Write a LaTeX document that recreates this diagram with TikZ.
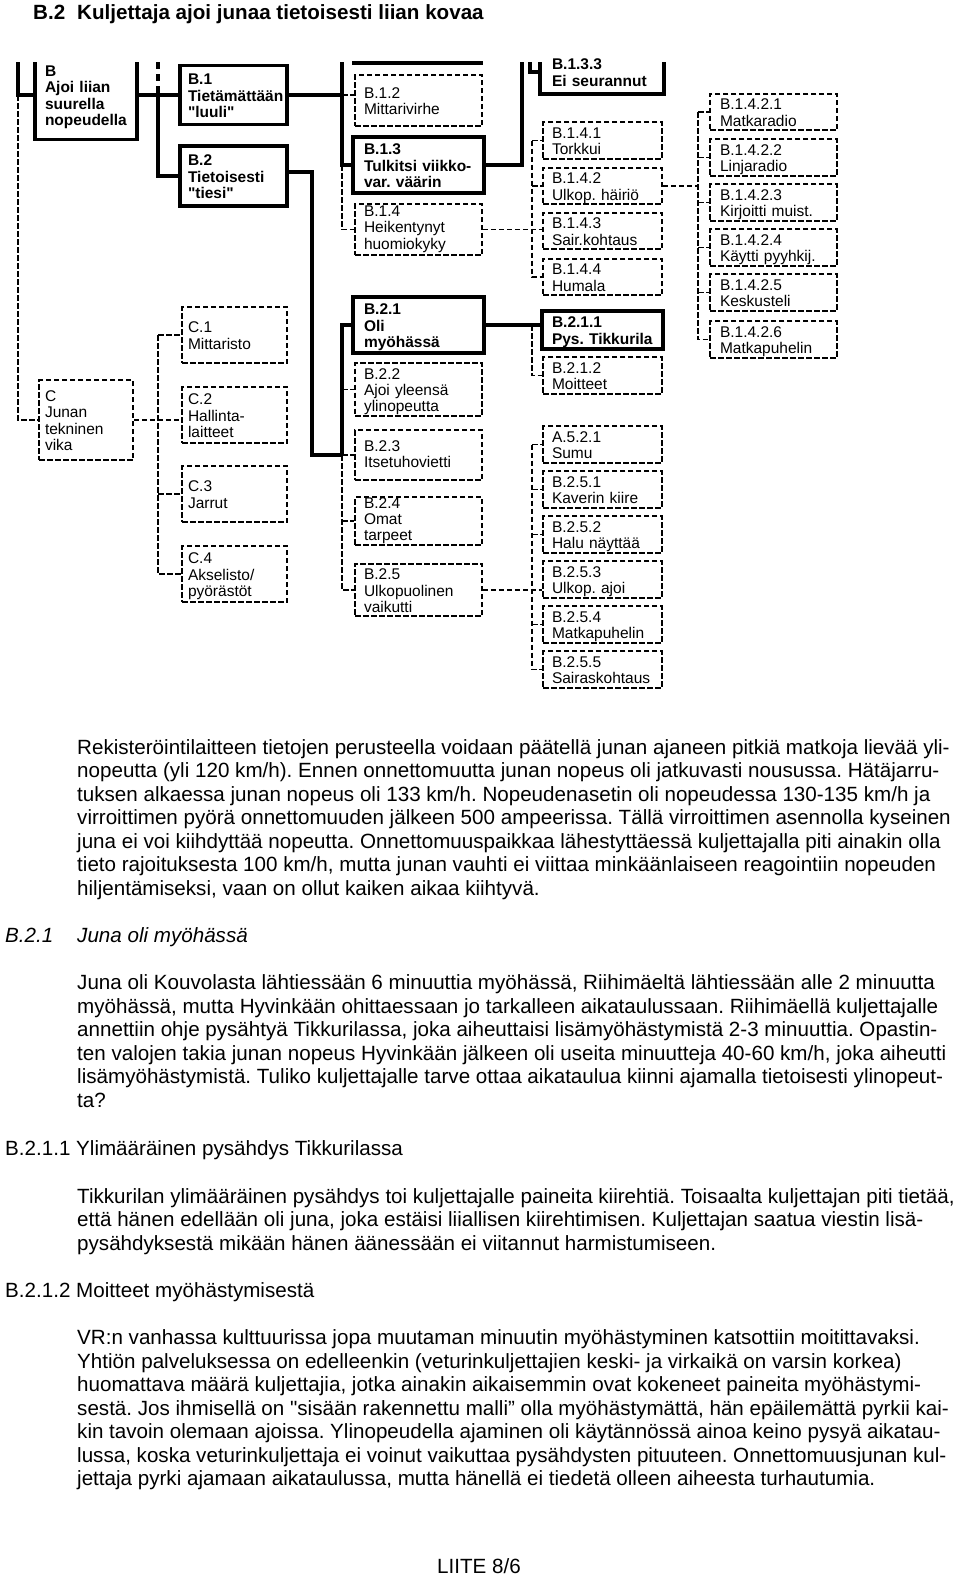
\documentclass[tikz,border=0pt]{standalone}
\usepackage{fontspec}
\setmainfont{Liberation Sans}
\frenchspacing
\font\qfbold="Liberation Sans/B" at 15.5pt
\font\qfbody="Liberation Sans" at 20.6pt
\newcommand\dqbold{{\qfbold\char34}}
\newcommand\dqbody{{\qfbody\char34}}
\newcommand\bst{\rule{0pt}{16pt}}
\newcommand\bsthi{\rule{0pt}{10.5pt}}
\newcommand\est{\rule[-4pt]{0pt}{4pt}}
\newcommand\bxr{\fontsize{15.5}{16.3}\selectfont\hyphenpenalty=10000\exhyphenpenalty=10000}
\newcommand\bxb{\fontsize{15.5}{16.3}\selectfont\bfseries\hyphenpenalty=10000\exhyphenpenalty=10000}
\newcommand\bodyf{\fontsize{20.6}{23.5}\selectfont}
\newcommand\headf{\fontsize{20.6}{24}\selectfont\bfseries}
\tikzset{
  thk/.style={line width=3.8pt},
  dsh/.style={line width=1.8pt, dash pattern=on 5.5pt off 2.5pt},
  bxth/.style={draw, thk, font=\bxb, align=left, inner ysep=0pt, inner xsep=#1},
  bxds/.style={draw, dsh, font=\bxr, align=left, inner ysep=0pt, inner xsep=#1},
  txt/.style={anchor=base west, inner sep=0pt, font=\bodyf},
}
\begin{document}
\begin{tikzpicture}[x=1pt,y=-1pt]
\useasboundingbox (0,0) rectangle (960,1577);

% ---------- title
\node[anchor=base west, inner sep=0pt, font=\headf] (title) at (33,19) {B.2\hspace{12pt}Kuljettaja ajoi junaa tietoisesti liian kovaa};

% ---------- helper coordinates
\coordinate (topcut) at (0,62);
\coordinate (lstub) at (18,62);
\coordinate (j1top) at (158,62);
\coordinate (j2top) at (342,62);
\coordinate (j5top) at (522,62);
\coordinate (j6top) at (530,62);
\coordinate (tl1) at (352,63);
\coordinate (tl2) at (483,63);
\coordinate (jB2) at (312,0);
\coordinate (jc2) at (342,0);
\coordinate (c1) at (158,0);
\coordinate (c3) at (532,0);
\coordinate (c4) at (698,0);

% ---------- column 1
\node[bxth=8, draw=none, minimum width=98pt, minimum height=85pt, text width=82pt] (nB) at (86,95) {\bst B\\Ajoi liian\\suurella\\nopeudella\est};
\node[bxth=8, minimum width=107pt, minimum height=59pt, text width=91pt] (nB1) at (233.5,95) {\bst B.1\\Tietämättään\\\dqbold luuli\dqbold\est};
\node[bxth=8, minimum width=107pt, minimum height=60pt, text width=91pt] (nB2) at (233.5,176) {\bst B.2\\Tietoisesti\\\dqbold tiesi\dqbold\est};
\node[bxds=6, minimum width=94pt, minimum height=80pt, text width=82pt] (nC) at (86,420) {\bst C\\Junan\\tekninen\\vika\est};
\node[bxds=6, minimum width=105pt, minimum height=56pt, text width=93pt] (nC1) at (234.5,335) {\bst C.1\\Mittaristo\est};
\node[bxds=6, minimum width=105pt, minimum height=56pt, text width=93pt] (nC2) at (234.5,415) {\bst C.2\\Hallinta-\\laitteet\est};
\node[bxds=6, minimum width=105pt, minimum height=56pt, text width=93pt] (nC3) at (234.5,494) {\bst C.3\\Jarrut\est};
\node[bxds=6, minimum width=105pt, minimum height=56pt, text width=93pt] (nC4) at (234.5,574) {\bst C.4\\Akselisto/\\pyörästöt\est};

% ---------- column 2
\node[bxds=9, minimum width=127pt, minimum height=51pt, text width=109pt] (nB12) at (418.5,100.5) {\bst B.1.2\\Mittarivirhe\est};
\node[bxth=11, minimum width=131pt, minimum height=56pt, text width=109pt] (nB13) at (418.5,165) {\bst B.1.3\\Tulkitsi viikko-\\var.~väärin\est};
\node[bxds=9, minimum width=127pt, minimum height=51pt, text width=109pt] (nB14) at (418.5,229.5) {\bsthi B.1.4\\Heikentynyt\\huomiokyky\est};
\node[bxth=11, minimum width=131pt, minimum height=56pt, text width=109pt] (nB21) at (418.5,325) {\bst B.2.1\\Oli\\myöhässä\est};
\node[bxds=9, minimum width=127pt, minimum height=51pt, text width=109pt] (nB22) at (418.5,389.5) {\bst B.2.2\\Ajoi yleensä\\ylinopeutta\est};
\node[bxds=9, minimum width=127pt, minimum height=50pt, text width=109pt] (nB23) at (418.5,455) {\rule{0pt}{13pt}B.2.3\\Itsetuhovietti\est};
\node[bxds=9, minimum width=127pt, minimum height=48pt, text width=109pt] (nB24) at (418.5,521) {\bsthi B.2.4\\Omat\\tarpeet\est};
\node[bxds=9, minimum width=127pt, minimum height=50pt, text width=109pt] (nB25) at (418.5,590) {\bst B.2.5\\Ulkopuolinen\\vaikutti\est};

% ---------- column 3
\node[bxth=10, draw=none, minimum width=120pt, minimum height=40.5pt, text width=100pt] (nB133) at (602,72) {\bst B.1.3.3\\Ei~seurannut\est};
\node[bxds=9, minimum width=119pt, minimum height=35pt, text width=101pt] (nB141) at (602.5,140.5) {\bst B.1.4.1\\Torkkui\est};
\node[bxds=9, minimum width=119pt, minimum height=36pt, text width=101pt] (nB142) at (602.5,186) {\bst B.1.4.2\\Ulkop.~häiriö\est};
\node[bxds=9, minimum width=119pt, minimum height=36pt, text width=101pt] (nB143) at (602.5,231) {\bst B.1.4.3\\Sair.kohtaus\est};
\node[bxds=9, minimum width=119pt, minimum height=36pt, text width=101pt] (nB144) at (602.5,277) {\bst B.1.4.4\\Humala\est};
\node[bxth=10, minimum width=121pt, minimum height=38pt, text width=101pt] (nB211) at (602.5,330) {\bst B.2.1.1\\Pys.~Tikkurila\est};
\node[bxds=9, minimum width=119pt, minimum height=35pt, text width=101pt] (nB212) at (602.5,375.5) {\bst B.2.1.2\\Moitteet\est};
\node[bxds=9, minimum width=119pt, minimum height=35pt, text width=101pt] (nA521) at (602.5,444.5) {\bst A.5.2.1\\Sumu\est};
\node[bxds=9, minimum width=119pt, minimum height=35pt, text width=101pt] (nB251) at (602.5,489.5) {\bst B.2.5.1\\Kaverin~kiire\est};
\node[bxds=9, minimum width=119pt, minimum height=35pt, text width=101pt] (nB252) at (602.5,534.5) {\bst B.2.5.2\\Halu~näyttää\est};
\node[bxds=9, minimum width=119pt, minimum height=35pt, text width=101pt] (nB253) at (602.5,579.5) {\bst B.2.5.3\\Ulkop.~ajoi\est};
\node[bxds=9, minimum width=119pt, minimum height=35pt, text width=101pt] (nB254) at (602.5,624.5) {\bst B.2.5.4\\Matkapuhelin\est};
\node[bxds=9, minimum width=119pt, minimum height=35pt, text width=101pt] (nB255) at (602.5,669.5) {\bst B.2.5.5\\Sairaskohtaus\est};

% ---------- column 4
\node[bxds=10, minimum width=127pt, minimum height=34pt, text width=107pt] (nB1421) at (773.5,112) {\bst B.1.4.2.1\\Matkaradio\est};
\node[bxds=10, minimum width=127pt, minimum height=35pt, text width=107pt] (nB1422) at (773.5,157.5) {\bst B.1.4.2.2\\Linjaradio\est};
\node[bxds=10, minimum width=127pt, minimum height=35pt, text width=107pt] (nB1423) at (773.5,202.5) {\bst B.1.4.2.3\\Kirjoitti~muist.\est};
\node[bxds=10, minimum width=127pt, minimum height=35pt, text width=107pt] (nB1424) at (773.5,247.5) {\bst B.1.4.2.4\\Käytti~pyyhkij.\est};
\node[bxds=10, minimum width=127pt, minimum height=35pt, text width=107pt] (nB1425) at (773.5,292.5) {\bst B.1.4.2.5\\Keskusteli\est};
\node[bxds=10, minimum width=127pt, minimum height=35pt, text width=107pt] (nB1426) at (773.5,339.5) {\bst B.1.4.2.6\\Matkapuhelin\est};

% ---------- cut-off boxes and thick connectors
\draw[thk] (nB.west |- topcut) -- (nB.south west) -- (nB.south east) -- (nB.east |- topcut);
\draw[thk] (nB133.west |- topcut) -- (nB133.south west) -- (nB133.south east) -- (nB133.east |- topcut);
\draw[thk] (tl1) -- (tl2);
\draw[thk] (lstub) |- (nB.west);
\draw[thk] (nB.east) -- (nB1.west);
\draw[thk, dash pattern=on 7pt off 5pt] (j1top) -- (j1top |- nB1.west);
\draw[thk] (j1top |- nB1.west) |- (nB2.west);
\draw[thk] (nB1.east) -- (nB1.east -| j2top);
\draw[thk] (j2top) |- (nB13.west);
\draw[thk] (nB13.east) -| (j5top);
\draw[thk] (j6top) |- (nB133.west);
\draw[thk] ([yshift=4pt]nB2.east) -| (jB2 |- nB23.west) -- (jc2 |- nB23.west);
\draw[thk] (jc2 |- nB23.west) |- (nB21.west);
\draw[thk] (nB21.east) -- (nB211.west |- nB21.east);

% ---------- dashed connectors
\draw[dsh] (lstub |- nB.west) |- (nC.west);
\draw[dsh] (nC.east) -- (nC2.west |- nC.east);
\draw[dsh] (c1 |- nC1.west) -- (nC1.west);
\draw[dsh] (c1 |- nC1.west) |- (nC4.west);
\draw[dsh] (c1 |- nC3.west) -- (nC3.west);

\draw[dsh] (nB1.east -| j2top) -- (nB12.west |- nB1.east);
\draw[dsh] (j2top |- nB13.west) |- (nB14.west);

\draw[dsh] (jc2 |- nB22.west) -- (nB22.west);
\draw[dsh] (jc2 |- nB23.west) -- (nB23.west);
\draw[dsh] (jc2 |- nB24.west) -- (nB24.west);
\draw[dsh] (jc2 |- nB23.west) |- (nB25.west);

\draw[dsh] (nB14.east) -- (nB143.west |- nB14.east);
\draw[dsh] (c3 |- nB141.west) -- (nB141.west);
\draw[dsh] (c3 |- nB141.west) |- (nB144.west);
\draw[dsh] (c3 |- nB142.west) -- (nB142.west);

\draw[dsh] (c3 |- nB21.east) |- (nB212.west);

\draw[dsh] (nB25.east) -- (nB253.west |- nB25.east);
\draw[dsh] (c3 |- nA521.west) -- (nA521.west);
\draw[dsh] (c3 |- nA521.west) |- (nB255.west);
\draw[dsh] (c3 |- nB251.west) -- (nB251.west);
\draw[dsh] (c3 |- nB252.west) -- (nB252.west);
\draw[dsh] (c3 |- nB254.west) -- (nB254.west);

\draw[dsh] (nB142.east) -- (c4 |- nB142.east);
\draw[dsh] (c4 |- nB1421.west) -- (nB1421.west);
\draw[dsh] (c4 |- nB1421.west) |- (nB1426.west);
\draw[dsh] (c4 |- nB1422.west) -- (nB1422.west);
\draw[dsh] (c4 |- nB1423.west) -- (nB1423.west);
\draw[dsh] (c4 |- nB1424.west) -- (nB1424.west);
\draw[dsh] (c4 |- nB1425.west) -- (nB1425.west);

% ---------- body text
\node[txt] (p1a) at (77,754) {Rekisteröintilaitteen tietojen perusteella voidaan päätellä junan ajaneen pitkiä matkoja lievää yli-};
\node[txt] (p1b) at (77,777.5) {nopeutta (yli 120 km/h). Ennen onnettomuutta junan nopeus oli jatkuvasti nousussa. Hätäjarru-};
\node[txt] (p1c) at (77,801) {tuksen alkaessa junan nopeus oli 133 km/h. Nopeudenasetin oli nopeudessa 130-135 km/h ja};
\node[txt] (p1d) at (77,824.5) {virroittimen pyörä onnettomuuden jälkeen 500 ampeerissa. Tällä virroittimen asennolla kyseinen};
\node[txt] (p1e) at (77,848) {juna ei voi kiihdyttää nopeutta. Onnettomuuspaikkaa lähestyttäessä kuljettajalla piti ainakin olla};
\node[txt] (p1f) at (77,871.5) {tieto rajoituksesta 100 km/h, mutta junan vauhti ei viittaa minkäänlaiseen reagointiin nopeuden};
\node[txt] (p1g) at (77,895) {hiljentämiseksi, vaan on ollut kaiken aikaa kiihtyvä.};

\node[txt, font=\bodyf\itshape] (h21) at (5,942) {B.2.1};
\node[txt, font=\bodyf\itshape] (h21t) at (77,942) {Juna oli myöhässä};

\node[txt] (p2a) at (77,989.5) {Juna oli Kouvolasta lähtiessään 6 minuuttia myöhässä, Riihimäeltä lähtiessään alle 2 minuutta};
\node[txt] (p2b) at (77,1013) {myöhässä, mutta Hyvinkään ohittaessaan jo tarkalleen aikataulussaan. Riihimäellä kuljettajalle};
\node[txt] (p2c) at (77,1036.5) {annettiin ohje pysähtyä Tikkurilassa, joka aiheuttaisi lisämyöhästymistä 2-3 minuuttia. Opastin-};
\node[txt] (p2d) at (77,1060) {ten valojen takia junan nopeus Hyvinkään jälkeen oli useita minuutteja 40-60 km/h, joka aiheutti};
\node[txt] (p2e) at (77,1083.5) {lisämyöhästymistä. Tuliko kuljettajalle tarve ottaa aikataulua kiinni ajamalla tietoisesti ylinopeut-};
\node[txt] (p2f) at (77,1107) {ta?};

\node[txt] (h211) at (5,1155.5) {B.2.1.1 Ylimääräinen pysähdys Tikkurilassa};

\node[txt] (p3a) at (77,1203) {Tikkurilan ylimääräinen pysähdys toi kuljettajalle paineita kiirehtiä. Toisaalta kuljettajan piti tietää,};
\node[txt] (p3b) at (77,1226.5) {että hänen edellään oli juna, joka estäisi liiallisen kiirehtimisen. Kuljettajan saatua viestin lisä-};
\node[txt] (p3c) at (77,1250) {pysähdyksestä mikään hänen äänessään ei viitannut harmistumiseen.};

\node[txt] (h212) at (5,1297) {B.2.1.2 Moitteet myöhästymisestä};

\node[txt] (p4a) at (77,1344.5) {VR:n vanhassa kulttuurissa jopa muutaman minuutin myöhästyminen katsottiin moitittavaksi.};
\node[txt] (p4b) at (77,1368) {Yhtiön palveluksessa on edelleenkin (veturinkuljettajien keski- ja virkaikä on varsin korkea)};
\node[txt] (p4c) at (77,1391.5) {huomattava määrä kuljettajia, jotka ainakin aikaisemmin ovat kokeneet paineita myöhästymi-};
\node[txt] (p4d) at (77,1415) {sestä. Jos ihmisellä on \dqbody sisään rakennettu malli” olla myöhästymättä, hän epäilemättä pyrkii kai-};
\node[txt] (p4e) at (77,1438.5) {kin tavoin olemaan ajoissa. Ylinopeudella ajaminen oli käytännössä ainoa keino pysyä aikatau-};
\node[txt] (p4f) at (77,1462) {lussa, koska veturinkuljettaja ei voinut vaikuttaa pysähdysten pituuteen. Onnettomuusjunan kul-};
\node[txt] (p4g) at (77,1485.5) {jettaja pyrki ajamaan aikataulussa, mutta hänellä ei tiedetä olleen aiheesta turhautumia.};

\node[anchor=base, inner sep=0pt, font=\bodyf] (liite) at (479,1573) {LIITE 8/6};
\end{tikzpicture}
\end{document}
